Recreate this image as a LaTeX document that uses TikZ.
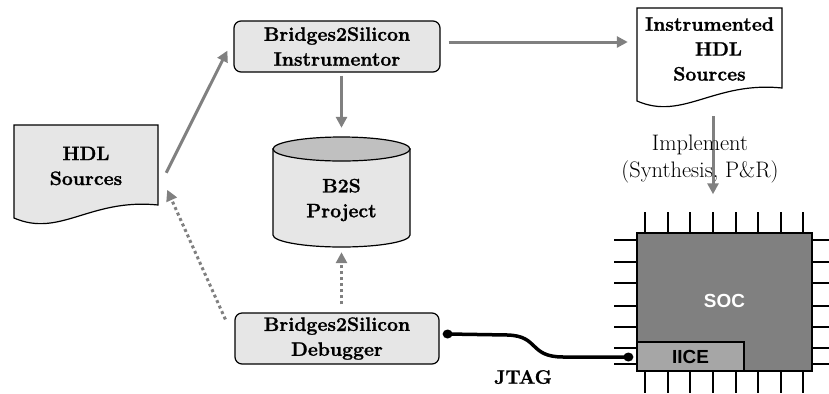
\documentclass[tikz,border=0pt]{standalone}
\usetikzlibrary{arrows.meta,calc}
\definecolor{boxfill}{HTML}{E6E6E6}
\definecolor{cyltop}{HTML}{C0C0C0}
\definecolor{arrowgray}{HTML}{808080}
\definecolor{socfill}{HTML}{808080}
\definecolor{icefill}{HTML}{A6A6A6}
\usepackage{fontspec}
\setmainfont{Latin Modern Roman}[BoldFeatures={FakeBold=1.2}]
\newfontfamily\helv{Liberation Sans}
\tikzset{
  lbl/.style={font=\fontsize{19.5}{25}\selectfont\bfseries, align=center},
  rbox/.style={lbl, draw=black, line width=1.2bp, fill=boxfill, rounded corners=7bp, inner sep=0pt},
  docarea/.style={lbl, inner sep=0pt},
  docline/.style={draw=black, line width=1.2bp},
  garrow/.style={draw=arrowgray, line width=3bp, -{Triangle[length=11bp,width=11bp]}},
  gdotted/.style={garrow, dash pattern=on 3bp off 3bp},
  pin/.style={draw=black, line width=1.5bp},
  jtag/.style={draw=black, line width=3.5bp},
}
\begin{document}
\begin{tikzpicture}[x=1bp,y=-1bp]
\useasboundingbox (0,0) rectangle (829,393);

% HDL Sources document
\coordinate (hdlnw) at (14,125);
\path[docline, fill=boxfill] (hdlnw) -- ++(144,0) -- ($(hdlnw)+(144,80)$)
  .. controls ($(hdlnw)+(76,73)$) and ($(hdlnw)+(46,113)$) .. ($(hdlnw)+(0,93)$) -- cycle;
\node[docarea, minimum width=144bp, minimum height=80bp] (hdl) at (86,166) {HDL\\Sources};

% Instrumentor
\node[rbox, minimum width=206bp, minimum height=51bp] (instr) at (337,46.5) {Bridges2Silicon\\Instrumentor};

% Instrumented HDL Sources document
\coordinate (idnw) at (637,8);
\path[docline, fill=white] (idnw) -- ++(145,0) -- ($(idnw)+(145,80)$)
  .. controls ($(idnw)+(77,73)$) and ($(idnw)+(46,113)$) .. ($(idnw)+(0,93)$) -- cycle;
\node[docarea, minimum width=145bp, minimum height=80bp] (instdoc) at (709.5,49) {Instrumented\\\hspace*{18bp}HDL\\Sources};

% B2S Project cylinder
\path[docline, fill=boxfill] (273,149) -- (273,235) arc[start angle=180, end angle=360, x radius=68.5bp, y radius=12bp] -- (410,149) -- cycle;
\path[docline, fill=cyltop] (341.5,149) ellipse[x radius=68.5bp, y radius=12bp];
\node[inner sep=0pt, minimum width=137bp, minimum height=110bp] (proj) at (341.5,192) {};
\node[lbl] (projtxt) at (341.5,200) {B2S\\Project};

% Debugger
\node[rbox, minimum width=204bp, minimum height=51bp] (dbg) at (337,338.5) {Bridges2Silicon\\Debugger};

% Connectors
\draw[garrow] ($(hdl.north east)+(8,47)$) -- ($(instr.south west)+(-6,-22)$);
\draw[garrow] ($(instr.east)+(8,-4.5)$) -- ($(instdoc.west)+(-9,-7)$);
\draw[garrow] ($(instr.south -| proj.north)+(0,3)$) -- ($(proj.north)+(0,-9)$);
\draw[gdotted] ($(dbg.north -| proj.south)+(0,-8)$) -- ($(proj.south)+(0,5)$);
\draw[gdotted] ($(dbg.north west)+(-9,7)$) -- ($(hdl.north east)+(9,64)$);

% SOC chip pins
\foreach \px in {645,668,690,713,736,758,781,803}{
  \draw[pin] (\px,212) -- (\px,233);
  \draw[pin] (\px,371) -- (\px,393);
}
\foreach \py in {240,262,283,306,327,348,364}{
  \draw[pin] (614,\py) -- (637,\py);
  \draw[pin] (812,\py) -- (829,\py);
}
\node[draw=black, line width=1.5bp, fill=socfill, minimum width=175bp, minimum height=138bp, inner sep=0pt,
      text=white, font=\helv\fontsize{19}{22}\selectfont\bfseries] (soc) at (724.5,302) {\raisebox{3bp}{SOC}};
\node[draw=black, line width=1.2bp, fill=icefill, minimum width=107bp, minimum height=29bp, inner sep=0pt,
      font=\helv\fontsize{19}{22}\selectfont\bfseries] (iice) at (690.5,356.5) {IICE};

% Implement arrow and label
\draw[garrow] ($(instdoc.south)+(3.5,27)$) -- ($(soc.north -| instdoc.south)+(3.5,-38)$);
\node[font=\fontsize{22.5}{27}\selectfont, align=center] (impl) at (700,159) {Implement\\(Synthesis, P\&R)};

% JTAG wire
\coordinate (j1) at ($(dbg.east)+(8,-4.5)$);
\coordinate (j2) at ($(iice.west)+(-8,0.5)$);
\draw[jtag] (j1) -- ($(j1)+(60,1)$) .. controls ($(j1)+(92,2)$) and ($(j2)+(-100,0)$) .. ($(j2)+(-65,0)$) -- (j2);
\fill[black] (j1) ellipse[x radius=5bp, y radius=4.5bp];
\fill[black] (j2) ellipse[x radius=5bp, y radius=4.5bp];
\node[lbl] (jtaglbl) at (523,377) {JTAG};
\end{tikzpicture}
\end{document}
